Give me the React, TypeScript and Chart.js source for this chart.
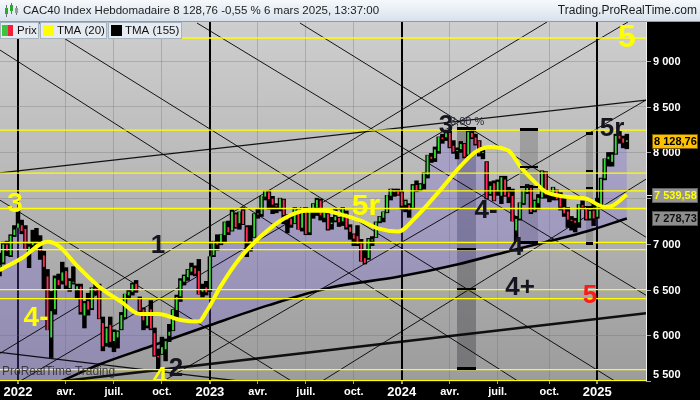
import React, { useEffect, useRef } from "react";
import { Chart, registerables } from "chart.js";

Chart.register(...registerables);

const FONT = '"Liberation Sans", Arial, sans-serif';

// Weekly bars: index 0 = week of 29 Nov 2021, index 170 = week of 3 Mar 2025
const opens = [
  6740, 6800, 6990, 6880, 7100,
  7180, 7200, 7160, 6890, 6990, 7020, 6930, 6870, 6640, 5980, 6290, 6600, 6600, 6700, 6520, 6580, 6500, 6530, 6220, 6370, 6300, 6510, 6500, 6130, 5920, 6110, 5940, 5980, 6070, 6200, 6440, 6480, 6560, 6400, 6280, 6110, 6280, 6020, 5770, 5800, 5850, 6000, 6060, 6280, 6430, 6590, 6640, 6700, 6730, 6700, 6480, 6520,
  6500, 6880, 7020, 7010, 7100, 7180, 7150, 7320, 7230, 7360, 7180, 7030, 7080, 7330, 7330, 7520, 7560, 7490, 7420, 7400, 7480, 7300, 7270, 7230, 7380, 7180, 7380, 7130, 7360, 7400, 7470, 7290, 7320, 7220, 7260, 7280, 7250, 7330, 7180, 7100, 7080, 7000, 6840, 6850, 7040, 7080, 7250, 7290, 7350, 7530, 7580, 7570,
  7560, 7430, 7420, 7400, 7640, 7600, 7660, 7760, 7950, 7940, 8020, 8160, 8170, 8210, 8070, 8020, 8040, 8090, 7980, 8210, 8160, 8120, 8000, 7890, 7550, 7660, 7580, 7530, 7700, 7560, 7520, 7150, 7280, 7450, 7570, 7620, 7370, 7450, 7510, 7780, 7540, 7550, 7580, 7510, 7400, 7350, 7260, 7250, 7240, 7420, 7400, 7280, 7360,
  7300, 7420, 7720, 7930, 7900, 7990, 8180, 8150, 8120,
];
const highs = [
  6900, 7020, 7030, 7100, 7200,
  7384, 7260, 7200, 7000, 7150, 7170, 7090, 6920, 6720, 6480, 6650, 6670, 6800, 6740, 6620, 6750, 6560, 6560, 6370, 6460, 6520, 6560, 6560, 6200, 6090, 6200, 6060, 6050, 6250, 6450, 6500, 6570, 6600, 6420, 6300, 6250, 6380, 6080, 5850, 5980, 5960, 6120, 6280, 6440, 6620, 6660, 6720, 6790, 6760, 6830, 6560, 6590,
  6860, 7030, 7100, 7100, 7240, 7250, 7370, 7340, 7350, 7400, 7200, 7200, 7330, 7380, 7520, 7580, 7580, 7520, 7440, 7500, 7490, 7320, 7300, 7400, 7390, 7400, 7400, 7390, 7440, 7500, 7490, 7380, 7340, 7290, 7380, 7290, 7400, 7360, 7210, 7110, 7200, 7050, 6930, 7060, 7080, 7240, 7300, 7350, 7530, 7600, 7600, 7600,
  7570, 7480, 7440, 7650, 7690, 7660, 7780, 7970, 7990, 8060, 8170, 8200, 8230, 8250, 8130, 8050, 8120, 8100, 8230, 8259, 8200, 8130, 8060, 7900, 7680, 7690, 7700, 7740, 7740, 7620, 7600, 7300, 7450, 7580, 7650, 7640, 7480, 7540, 7800, 7790, 7580, 7620, 7590, 7560, 7500, 7400, 7300, 7280, 7430, 7470, 7410, 7370, 7430,
  7500, 7720, 7930, 8000, 8000, 8200, 8230, 8180, 8200,
];
const lows = [
  6650, 6780, 6870, 6860, 7080,
  7180, 7110, 6950, 6740, 6950, 6980, 6830, 6500, 6060, 5756, 6230, 6510, 6560, 6500, 6480, 6560, 6400, 6230, 6080, 6220, 6280, 6440, 6180, 5830, 5880, 5870, 5820, 5860, 6060, 6180, 6400, 6440, 6470, 6220, 6060, 6080, 6060, 5770, 5628, 5790, 5720, 5930, 6050, 6200, 6370, 6550, 6600, 6660, 6650, 6450, 6420, 6440,
  6480, 6860, 6930, 6990, 7020, 7100, 7140, 7170, 7160, 7210, 6860, 6920, 7070, 7280, 7300, 7480, 7380, 7330, 7340, 7360, 7220, 7120, 7180, 7220, 7160, 7140, 7100, 7100, 7280, 7310, 7260, 7240, 7150, 7160, 7240, 7190, 7200, 7160, 7050, 6980, 6980, 6810, 6780, 6830, 6980, 7070, 7230, 7240, 7340, 7480, 7520, 7530,
  7380, 7350, 7290, 7390, 7570, 7580, 7600, 7720, 7890, 7900, 7990, 8100, 8130, 8050, 7990, 7930, 8000, 7940, 7960, 8150, 8080, 7960, 7930, 7490, 7530, 7470, 7530, 7440, 7520, 7450, 7250, 7030, 7260, 7430, 7550, 7330, 7350, 7380, 7500, 7500, 7460, 7480, 7480, 7370, 7300, 7180, 7150, 7130, 7180, 7380, 7260, 7260, 7200,
  7280, 7400, 7700, 7850, 7850, 7980, 8100, 8050, 8040,
];
const closes = [
  6765, 6991, 6928, 7086, 7153,
  7219, 7143, 6940, 6965, 7006, 7011, 6929, 6752, 6061, 6260, 6620, 6553, 6684, 6548, 6590, 6582, 6534, 6258, 6348, 6285, 6515, 6485, 6187, 5882, 6073, 5931, 6033, 6036, 6217, 6449, 6472, 6553, 6495, 6274, 6167, 6212, 6077, 5783, 5762, 5866, 5932, 6035, 6273, 6416, 6595, 6644, 6712, 6742, 6677, 6452, 6504, 6474,
  6860, 7024, 6995, 7097, 7233, 7130, 7348, 7187, 7348, 7220, 7026, 7015, 7322, 7325, 7520, 7577, 7492, 7433, 7414, 7492, 7320, 7270, 7213, 7389, 7163, 7400, 7112, 7373, 7432, 7477, 7316, 7341, 7164, 7229, 7296, 7241, 7379, 7184, 7135, 7060, 7003, 6816, 6796, 7048, 7044, 7234, 7293, 7346, 7527, 7597, 7569, 7543,
  7421, 7466, 7372, 7635, 7592, 7648, 7769, 7966, 7934, 8028, 8164, 8151, 8206, 8061, 8011, 8022, 8088, 7957, 8219, 8168, 8095, 7992, 8002, 7504, 7629, 7479, 7675, 7725, 7534, 7517, 7252, 7269, 7449, 7577, 7631, 7352, 7465, 7500, 7792, 7541, 7542, 7613, 7497, 7410, 7338, 7269, 7255, 7235, 7427, 7409, 7274, 7355, 7282,
  7431, 7710, 7927, 7950, 7973, 8178, 8154, 8111, 8128.76,
];

// Triangular moving averages (by week index)
const tma20Idx = [0, 6, 13, 16, 21, 27, 33, 38, 43, 49, 54, 56, 60, 65, 71, 77, 83, 88, 92, 98, 103, 108, 113, 119, 125, 129, 133, 138, 141, 145, 148, 154, 159, 164, 166, 170];
const tma20Val = [6712, 6843, 7022, 6978, 6760, 6530, 6365, 6234, 6234, 6168, 6150, 6255, 6540, 6836, 7088, 7274, 7361, 7361, 7328, 7252, 7164, 7135, 7300, 7569, 7853, 8007, 8061, 8018, 7853, 7678, 7569, 7514, 7493, 7405, 7416, 7539.58];
const tma155Idx = [0, 15, 27, 41, 57, 73, 90, 108, 124, 138, 150, 159, 170];
const tma155Val = [5250, 5470, 5680, 5880, 6110, 6330, 6525, 6640, 6775, 6920, 7040, 7135, 7278.73];

// X axis ticks (week index of first bar of each quarter)
const quarterIdx = [5, 18, 31, 44, 57, 70, 83, 96, 109, 122, 135, 149, 162];
const quarterLabels = ["2022", "avr.", "juil.", "oct.", "2023", "avr.", "juil.", "oct.", "2024", "avr.", "juil.", "oct.", "2025"];
const yTicks = [5500, 6000, 6500, 7000, 7500, 8000, 8500, 9000];

// Horizontal yellow levels
const hLevels = [9252, 8244, 7774, 7580, 7387, 7015, 6938, 6500, 6402, 5624, 5503];

// Trend lines (week index, price)
const trendX1 = [0.12, 0.12, 10.42, 53.51, 81.42, 0.12, 5.0, 86.84, 43.75, 0.12, 0.12, 11.78];
const trendY1 = [7478, 9120, 9427, 9416, 9416, 5803, 5485, 5485, 5485, 5814, 7777, 5474];
const trendX2 = [81.42, 141.04, 167.33, 175.19, 175.19, 148.36, 170.31, 175.19, 175.19, 67.87, 175.19, 175.19];
const trendY2 = [5442, 5485, 5485, 6438, 7073, 9427, 9427, 7708, 8573, 5485, 8573, 6241];
const trendWidth = [1, 1, 1, 1, 1, 1, 1, 1, 1, 1.3, 1.4, 2.6];

// Shaded zones
const zoneStart = [123.97, 141.04, 158.93];
const zoneEnd = [129.12, 145.92, 160.83];
const zoneTop = [8266, 8255, 8212];
const zoneBottom = [5639, 7018, 7007];
const zoneLevels = [[6941, 6503], [7839, 7620], [7796, 7610, 7402]];
const zoneFill = ["rgba(55,55,60,0.38)", "rgba(85,85,85,0.3)", "rgba(85,85,85,0.3)"];

// Wave labels
const waveText = ["3", "4-", "1", "4", "2", "5r", "3", "4-", "4", "4+", "5", "5", "5r"];
const waveX = [4.19, 9.88, 42.94, 43.48, 47.82, 99.31, 120.99, 131.83, 139.96, 141.04, 160.01, 170.04, 165.98];
const waveY = [7445, 6197, 6985, 5551, 5639, 7412, 8299, 7369, 6963, 6526, 6438, 9263, 8266];
const waveColor = ["#ffff00", "#ffff00", "#15151f", "#ffff00", "#15151f", "#ffff00", "#15151f", "#15151f", "#15151f", "#15151f", "#ff1a1a", "#ffff00", "#15151f"];
const waveSize = [28, 28, 26, 26, 26, 30, 26, 26, 26, 26, 26, 32, 26];

const X_MIN = 0.12;
const X_MAX = 175.19;
const Y_MIN = 5500;
const Y_MAX = 9427;

const titleText = "CAC40 Index Hebdomadaire 8 128,76 -0,55 % 6 mars 2025, 13:37:00";
const siteText = "Trading.ProRealTime.com";

const grp = (s: string) => s.replace(/\B(?=(\d{3})+(?!\d))/g, " ");
const fmt2 = (v: number) => {
  const [a, b] = v.toFixed(2).split(".");
  return grp(a) + "," + b;
};

export default function App() {
  const canvasRef = useRef<HTMLCanvasElement | null>(null);

  useEffect(() => {
    document.body.style.margin = "0";
    const canvas = canvasRef.current;
    if (!canvas) return;

    const datasets: any[] = [];
    datasets.push({
      type: "line",
      data: closes.map((c, i) => ({ x: i, y: c })),
      borderColor: "rgba(0,0,0,0)",
      borderWidth: 0,
      pointRadius: 0,
      fill: { target: 1 },
      backgroundColor: "rgba(112,92,226,0.27)",
      order: 20,
    });
    datasets.push({
      type: "line",
      data: tma155Idx.map((x, k) => ({ x, y: tma155Val[k] })),
      borderColor: "#000",
      borderWidth: 2.6,
      pointRadius: 0,
      cubicInterpolationMode: "monotone",
      fill: false,
      order: 6,
    });
    trendX1.forEach((x1, k) => {
      datasets.push({
        type: "line",
        data: [
          { x: x1, y: trendY1[k] },
          { x: trendX2[k], y: trendY2[k] },
        ],
        borderColor: "rgba(0,0,0,0.9)",
        borderWidth: trendWidth[k],
        pointRadius: 0,
        fill: false,
        order: 8,
      });
    });
    datasets.push({
      type: "bar",
      data: closes.map((c, i) => ({ x: i, y: [lows[i], highs[i]] })),
      backgroundColor: "#000",
      borderWidth: 0,
      barThickness: 3.8,
      grouped: false,
      order: 4,
    });
    datasets.push({
      type: "bar",
      data: closes.map((c, i) => ({ x: i, y: [opens[i], c] })),
      backgroundColor: closes.map((c, i) => (c >= opens[i] ? "#38d838" : "#ff2d55")),
      borderWidth: 0,
      barThickness: 1.2,
      grouped: false,
      order: 3,
    });
    hLevels.forEach((v) => {
      datasets.push({
        type: "line",
        data: [
          { x: X_MIN, y: v },
          { x: X_MAX, y: v },
        ],
        borderColor: "#ffff00",
        borderWidth: 1.3,
        pointRadius: 0,
        fill: false,
        order: 2,
      });
    });
    datasets.push({
      type: "line",
      data: tma20Idx.map((x, k) => ({ x, y: tma20Val[k] })),
      borderColor: "#ffff00",
      borderWidth: 4,
      pointRadius: 0,
      cubicInterpolationMode: "monotone",
      fill: false,
      order: 1,
    });

    const isYear = (v: any) => {
      const k = quarterIdx.indexOf(v);
      return k >= 0 && /^\d{4}$/.test(quarterLabels[k]);
    };

    const deco = {
      id: "deco",
      beforeDraw(chart: any) {
        const { ctx, chartArea: a, width, height } = chart;
        ctx.save();
        ctx.fillStyle = "#000";
        ctx.fillRect(0, 0, width, height);
        const g = ctx.createLinearGradient(0, a.top, 0, a.bottom);
        g.addColorStop(0, "#cecece");
        g.addColorStop(1, "#9c9c9c");
        ctx.fillStyle = g;
        ctx.fillRect(a.left, a.top, a.right - a.left, a.bottom - a.top);
        ctx.restore();
      },
      beforeDatasetsDraw(chart: any) {
        const { ctx, chartArea: a, scales } = chart;
        const xs = scales.x;
        const ys = scales.y;
        ctx.save();
        ctx.beginPath();
        ctx.rect(a.left, a.top, a.right - a.left, a.bottom - a.top);
        ctx.clip();
        zoneStart.forEach((s, k) => {
          const x0 = xs.getPixelForValue(s);
          const x1 = xs.getPixelForValue(zoneEnd[k]);
          const y0 = ys.getPixelForValue(zoneTop[k]);
          const y1 = ys.getPixelForValue(zoneBottom[k]);
          ctx.fillStyle = zoneFill[k];
          ctx.fillRect(x0, y0, x1 - x0, y1 - y0);
        });
        ctx.restore();
      },
      afterDatasetsDraw(chart: any) {
        const { ctx, chartArea: a, scales } = chart;
        const xs = scales.x;
        const ys = scales.y;
        ctx.save();
        ctx.beginPath();
        ctx.rect(a.left, a.top, a.right - a.left, a.bottom - a.top);
        ctx.clip();
        ctx.fillStyle = "#000";
        zoneStart.forEach((s, k) => {
          const x0 = xs.getPixelForValue(s);
          const x1 = xs.getPixelForValue(zoneEnd[k]);
          [zoneTop[k], zoneBottom[k], ...zoneLevels[k]].forEach((lv, j) => {
            const py = ys.getPixelForValue(lv);
            ctx.fillRect(x0, Math.round(py) - 1, x1 - x0, j < 2 ? 3 : 2);
          });
        });
        ctx.font = `12px ${FONT}`;
        ctx.fillStyle = "rgba(40,40,50,0.85)";
        ctx.textAlign = "left";
        ctx.textBaseline = "middle";
        ctx.fillText("ProRealTime Trading", a.left + 2, a.bottom - 9);
        ctx.textAlign = "center";
        waveText.forEach((t, k) => {
          ctx.font = `bold ${waveSize[k]}px ${FONT}`;
          ctx.fillStyle = waveColor[k];
          ctx.fillText(t, xs.getPixelForValue(waveX[k]), ys.getPixelForValue(waveY[k]) + 1);
        });
        ctx.font = `11px ${FONT}`;
        ctx.fillStyle = "#2a2a3a";
        ctx.textAlign = "left";
        ctx.fillText("3,00 %", xs.getPixelForValue(122.07), ys.getPixelForValue(8332));
        ctx.restore();
      },
      afterDraw(chart: any) {
        const { ctx, chartArea: a, scales, width } = chart;
        const ys = scales.y;
        ctx.save();
        const tg = ctx.createLinearGradient(0, 0, 0, 21);
        tg.addColorStop(0, "#f6f9fc");
        tg.addColorStop(1, "#d8e2ec");
        ctx.fillStyle = tg;
        ctx.fillRect(0, 0, width, 21);
        ctx.fillStyle = "#8e9aa6";
        ctx.fillRect(0, 21, width, 1);
        ctx.fillStyle = "#707070";
        ctx.fillRect(6, 5, 1, 12);
        ctx.fillRect(11, 3, 1, 11);
        ctx.fillRect(16, 6, 1, 9);
        ctx.fillStyle = "#2ea82e";
        ctx.fillRect(5, 8, 3, 6);
        ctx.fillRect(10, 5, 3, 6);
        ctx.fillStyle = "#9a9a9a";
        ctx.fillRect(15, 8, 3, 5);
        ctx.font = `11.5px ${FONT}`;
        ctx.fillStyle = "#1c1c1c";
        ctx.textBaseline = "middle";
        ctx.textAlign = "left";
        ctx.fillText(titleText, 23, 11);
        ctx.font = `12px ${FONT}`;
        ctx.textAlign = "right";
        ctx.fillText(siteText, 697, 11);
        const boxes = [
          { x: 0, w: 39, label: "Prix", sw: ["#3cc43c", "#f0203c"] },
          { x: 40, w: 67, label: "TMA (20)", sw: ["#ffff00"] },
          { x: 108, w: 74, label: "TMA (155)", sw: ["#000000"] },
        ];
        ctx.textAlign = "left";
        boxes.forEach((b) => {
          ctx.fillStyle = "#e5ebf1";
          ctx.fillRect(b.x, 22, b.w, 17);
          ctx.strokeStyle = "#a6b2be";
          ctx.lineWidth = 1;
          ctx.strokeRect(b.x + 0.5, 22.5, b.w - 1, 16);
          if (b.sw.length === 2) {
            ctx.fillStyle = b.sw[0];
            ctx.fillRect(b.x + 2, 25, 6, 11);
            ctx.fillStyle = b.sw[1];
            ctx.fillRect(b.x + 8, 25, 5, 11);
          } else {
            ctx.fillStyle = b.sw[0];
            ctx.fillRect(b.x + 3, 25, 11, 11);
          }
          ctx.fillStyle = "#111";
          ctx.font = `11.5px ${FONT}`;
          ctx.fillText(b.label, b.x + 17, 31);
        });
        ctx.font = `bold 11px ${FONT}`;
        ctx.textBaseline = "middle";
        yTicks.forEach((v) => {
          const py = Math.round(ys.getPixelForValue(v)) + 0.5;
          ctx.strokeStyle = "#a0a0a0";
          ctx.beginPath();
          ctx.moveTo(a.right, py);
          ctx.lineTo(a.right + 5, py);
          ctx.stroke();
          ctx.fillStyle = "#ffffff";
          ctx.fillText(grp(String(v)), a.right + 7, Math.min(py, a.bottom - 6));
        });
        ctx.fillStyle = "#f0f0f0";
        ctx.fillRect(a.right, a.top, 1, a.bottom - a.top);
        const lastClose = closes[closes.length - 1];
        const lastT20 = tma20Val[tma20Val.length - 1];
        const lastT155 = tma155Val[tma155Val.length - 1];
        const tags = [
          { v: lastClose, bg: "#ffc000", border: "#7a5a00", fg: "#000000" },
          { v: lastT20, bg: "#959595", border: "#606060", fg: "#ffff00" },
          { v: lastT155, bg: "#8e8e8e", border: "#555555", fg: "#101010" },
        ];
        tags.forEach((t) => {
          const py = Math.round(ys.getPixelForValue(t.v));
          ctx.fillStyle = t.bg;
          ctx.fillRect(a.right + 6, py - 7, 46, 15);
          ctx.strokeStyle = t.border;
          ctx.strokeRect(a.right + 6.5, py - 6.5, 45, 14);
          ctx.fillStyle = t.fg;
          ctx.fillText(fmt2(t.v), a.right + 8, py + 1);
        });
        const p20 = Math.round(ys.getPixelForValue(lastT20)) + 0.5;
        ctx.strokeStyle = "#ffff00";
        ctx.beginPath();
        ctx.moveTo(a.right, p20);
        ctx.lineTo(a.right + 6, p20);
        ctx.stroke();
        ctx.restore();
      },
    };

    const chart = new Chart(canvas, {
      type: "line",
      data: { datasets },
      options: {
        responsive: false,
        animation: false,
        devicePixelRatio: 1,
        events: [],
        layout: { padding: { top: 22, left: 0, right: 0, bottom: 0 } },
        plugins: { legend: { display: false }, tooltip: { enabled: false } },
        scales: {
          x: {
            type: "linear",
            min: X_MIN,
            max: X_MAX,
            offset: false,
            afterBuildTicks: (s: any) => {
              s.ticks = quarterIdx.map((v) => ({ value: v }));
            },
            afterFit: (s: any) => {
              s.height = 19;
            },
            border: { display: false },
            grid: {
              offset: false,
              color: (c: any) => (isYear(c.tick && c.tick.value) ? "#000000" : "rgba(105,105,105,0.32)"),
              lineWidth: (c: any) => (isYear(c.tick && c.tick.value) ? 2 : 1),
              tickColor: "#9a9a9a",
              tickLength: 3,
            },
            ticks: {
              autoSkip: false,
              maxRotation: 0,
              minRotation: 0,
              padding: 1,
              color: "#ffffff",
              font: (c: any) => ({
                family: FONT,
                size: isYear(c.tick && c.tick.value) ? 13 : 11,
                weight: "bold",
              }),
              callback: (v: any) => {
                const k = quarterIdx.indexOf(v);
                return k >= 0 ? quarterLabels[k] : "";
              },
            },
          },
          y: {
            type: "linear",
            position: "right",
            min: Y_MIN,
            max: Y_MAX,
            afterBuildTicks: (s: any) => {
              s.ticks = yTicks.map((v) => ({ value: v }));
            },
            afterFit: (s: any) => {
              s.width = 54;
            },
            border: { display: false },
            grid: { offset: false, color: "rgba(105,105,105,0.3)", drawTicks: false },
            ticks: { display: false },
          },
        },
      } as any,
      plugins: [deco],
    } as any);

    return () => chart.destroy();
  }, []);

  return (
    <canvas
      ref={canvasRef}
      width={700}
      height={400}
      style={{ display: "block", width: 700, height: 400 }}
    />
  );
}
